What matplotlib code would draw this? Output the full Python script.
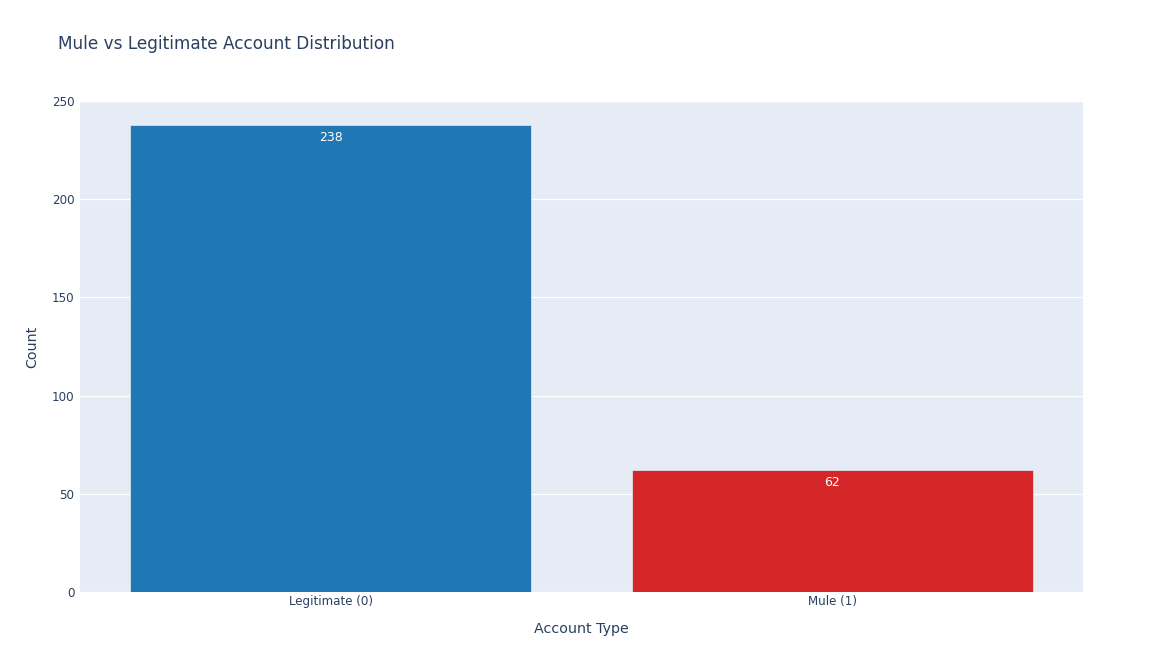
import matplotlib
matplotlib.use("Agg")
import matplotlib.pyplot as plt

categories = ["Legitimate (0)", "Mule (1)"]
counts = [238, 62]
colors = ["#1f77b4", "#d62728"]
yticks = [0, 50, 100, 150, 200, 250]

W, H = 1164, 672
fig = plt.figure(figsize=(W / 100, H / 100), dpi=100)
fig.patch.set_facecolor("white")
ax = fig.add_axes([80 / W, (H - 592) / H, 1003 / W, 491 / H])
ax.set_facecolor("#E5ECF6")

txt = "#2a3f5f"
plt.rcParams["font.family"] = ["DejaVu Sans"]

x = list(range(len(categories)))
bars = ax.bar(x, counts, width=0.8, color=colors, edgecolor="#E5ECF6", linewidth=0.5, zorder=3)
for xi, v in zip(x, counts):
    ax.annotate(str(v), (xi, v), xytext=(0, -4.3), textcoords="offset points",
                ha="center", va="top", color="white", fontsize=9, zorder=4)

ax.set_xlim(-0.5, len(categories) - 0.5)
ax.set_ylim(0, 250)
ax.set_yticks(yticks)
ax.set_xticks(x)
ax.set_xticklabels(categories)
ax.grid(axis="y", color="white", linewidth=1, zorder=0)
ax.set_axisbelow(True)
for s in ax.spines.values():
    s.set_visible(False)
ax.tick_params(axis="both", length=0, labelsize=8.6, labelcolor=txt)
ax.tick_params(axis="y", pad=4)
ax.tick_params(axis="x", pad=2)

ax.set_xlabel("Account Type", fontsize=10.3, color=txt, labelpad=10)
ax.set_ylabel("Count", fontsize=10.3, color=txt, labelpad=9)

fig.text(58 / W, 1 - 44 / H, "Mule vs Legitimate Account Distribution",
         fontsize=12.2, color=txt, ha="left", va="center")

fig.savefig("out.png", dpi=100, facecolor="white")
